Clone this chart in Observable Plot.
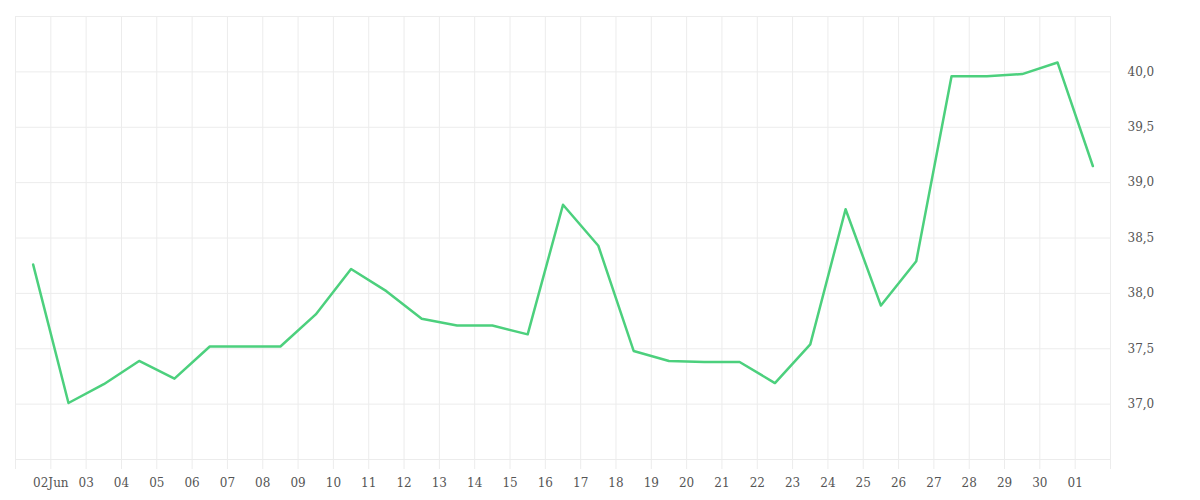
<!DOCTYPE html>
<html><head><meta charset="utf-8">
<script src="https://cdn.jsdelivr.net/npm/d3@7"></script>
<script src="https://cdn.jsdelivr.net/npm/@observablehq/plot@0.6"></script>
<style>body{margin:0;background:#fff;}</style>
</head><body><div id="chart"></div>
<script>
const dates = [
  "2023-06-01T12:00Z","2023-06-02T12:00Z","2023-06-03T12:00Z","2023-06-04T12:00Z","2023-06-05T12:00Z",
  "2023-06-06T12:00Z","2023-06-07T12:00Z","2023-06-08T12:00Z","2023-06-09T12:00Z","2023-06-10T12:00Z",
  "2023-06-11T12:00Z","2023-06-12T12:00Z","2023-06-13T12:00Z","2023-06-14T12:00Z","2023-06-15T12:00Z",
  "2023-06-16T12:00Z","2023-06-17T12:00Z","2023-06-18T12:00Z","2023-06-19T12:00Z","2023-06-20T12:00Z",
  "2023-06-21T12:00Z","2023-06-22T12:00Z","2023-06-23T12:00Z","2023-06-24T12:00Z","2023-06-25T12:00Z",
  "2023-06-26T12:00Z","2023-06-27T12:00Z","2023-06-28T12:00Z","2023-06-29T12:00Z","2023-06-30T12:00Z",
  "2023-07-01T12:00Z"
];
const values = [
  38.26, 37.01, 37.18, 37.39, 37.23,
  37.52, 37.52, 37.52, 37.81, 38.22,
  38.02, 37.77, 37.71, 37.71, 37.63,
  38.80, 38.43, 37.48, 37.39, 37.38,
  37.38, 37.19, 37.54, 38.76, 37.89,
  38.29, 39.96, 39.96, 39.98, 40.085,
  39.15
];
const yTicks = [37, 37.5, 38, 38.5, 39, 39.5, 40];
const yGrid = [36.5, 37, 37.5, 38, 38.5, 39, 39.5, 40, 40.5];
const xStart = new Date("2023-06-01T00:00Z");
const xEnd = new Date("2023-07-02T00:00Z");

const gridDays = d3.utcDay.range(xStart, new Date(+xEnd + 1));
const tickDays = gridDays.slice(1, -1);
const data = dates.map((d, i) => ({date: new Date(d), value: values[i]}));

const fmtDay = d3.utcFormat("%d");
const chart = Plot.plot({
  width: 1200, height: 500,
  marginLeft: 15, marginRight: 90, marginTop: 16, marginBottom: 41,
  style: {fontFamily: "DejaVu Serif", fontSize: "12px", color: "#555", background: "#fff"},
  x: {type: "utc", domain: [xStart, xEnd], label: null},
  y: {domain: [36.5, 40.5], label: null},
  marks: [
    Plot.ruleY(yGrid, {stroke: "#ececec"}),
    Plot.ruleX(gridDays, {stroke: "#ececec", insetBottom: -10}),
    Plot.axisX(tickDays, {tickSize: 0, tickPadding: 19, label: null,
      tickFormat: d => (d.getUTCDate() === 2 && d.getUTCMonth() === 5) ? fmtDay(d) + "Jun" : fmtDay(d)}),
    Plot.axisY(yTicks, {anchor: "right", tickSize: 0, tickPadding: 17, label: null,
      tickFormat: d => d.toFixed(1).replace(".", ",")}),
    Plot.line(data, {x: "date", y: "value", stroke: "#4cd07d", strokeWidth: 2.5})
  ]
});
document.getElementById("chart").append(chart);
</script>
</body></html>
